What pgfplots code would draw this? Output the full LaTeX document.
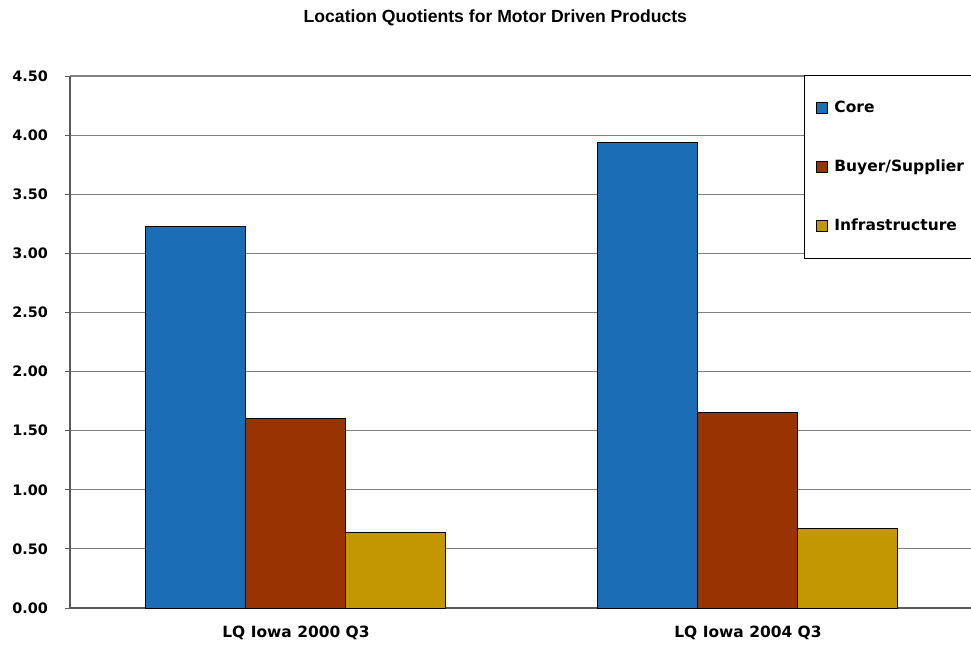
\documentclass[border=0pt]{standalone}
\usepackage{fontspec}
\setmainfont{DejaVu Sans}
\newfontfamily\titlefont{Liberation Sans}
\usepackage{pgfplots}
\pgfplotsset{compat=1.18}
\definecolor{coreblue}{RGB}{27,109,182}
\definecolor{buyerbrown}{RGB}{153,51,0}
\definecolor{infragold}{RGB}{195,151,0}
\definecolor{gridgray}{RGB}{128,128,128}
\definecolor{axisgray}{RGB}{90,90,90}
\begin{document}
\begin{tikzpicture}
\begin{axis}[
  scale only axis,
  width=675.75pt, height=399pt,
  xmin=-0.5, xmax=1.4934,
  ymin=0, ymax=4.5,
  ybar=0pt, bar width=75pt,
  xtick={0,1},
  xticklabels={LQ Iowa 2000 Q3, LQ Iowa 2004 Q3},
  x tick style={draw=none},
  extra x ticks={0.5},
  extra x tick labels={},
  extra x tick style={tick style={draw=axisgray, line width=0.75pt}, major tick length=4.5pt, tick align=outside, grid=none},
  ytick={0,0.5,...,4.5},
  /pgf/number format/fixed,
  /pgf/number format/fixed zerofill,
  /pgf/number format/precision=2,
  /pgf/number format/assume math mode=true,
  y tick style={draw=axisgray, line width=0.75pt},
  major tick length=4pt,
  tick align=outside,
  ymajorgrids,
  grid style={gridgray, line width=0.9pt},
  axis x line*=bottom, axis y line*=left,
  axis line style={axisgray, line width=0.9pt, -},
  yticklabel style={font=\fontsize{10.8}{12}\bfseries, xshift=-9pt},
  xticklabel style={font=\fontsize{11.6}{13}\bfseries, yshift=-6pt},
  legend style={at={(rel axis cs:0.8147,1.002)}, anchor=north west,
    draw=black, line width=0.75pt, fill=white,
    font=\fontsize{11.6}{13}\bfseries,
    inner xsep=8.25pt, inner ysep=19pt,
    row sep=33.5pt,
    nodes={inner sep=0pt, text height=8.5pt, text depth=2.3pt},
    text width=140pt},
  legend cell align=left,
  legend image code/.code={\draw[#1, draw=black, line width=0.6pt] (0pt,-4pt) rectangle (8.5pt,4.5pt); \path (13.5pt,0pt);},
  every axis plot/.append style={draw=black, line width=0.75pt},
  clip=false,
]
\addplot[fill=coreblue] coordinates {(0,3.23) (1,3.94)};
\addplot[fill=buyerbrown] coordinates {(0,1.60) (1,1.65)};
\addplot[fill=infragold] coordinates {(0,0.64) (1,0.67)};
\legend{Core, Buyer/Supplier, Infrastructure}
\coordinate (sw) at (rel axis cs:0,0);
\node[font=\titlefont\fontsize{13.2}{15}\bfseries, anchor=center] at ([yshift=43.5pt]axis cs:0.441,4.5) {Location Quotients for Motor Driven Products};
\end{axis}
\pgfresetboundingbox
\path (sw) ++(-52.5pt,-29.25pt) rectangle ++(728.25pt,485.25pt);
\end{tikzpicture}
\end{document}
